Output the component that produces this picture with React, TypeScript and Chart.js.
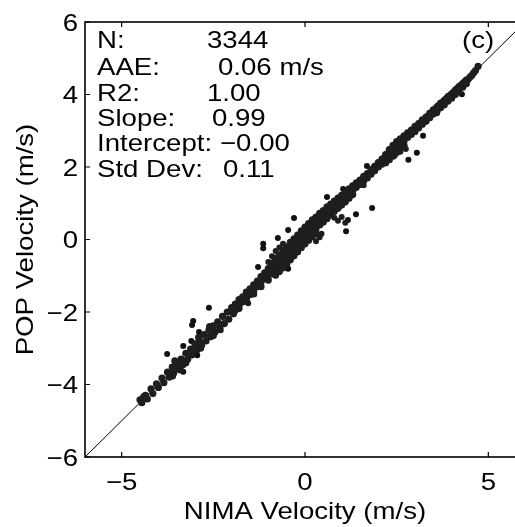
import React, { useEffect, useRef } from "react";
import { Chart, registerables } from "chart.js";

Chart.register(...registerables);

// ---- axis ticks ----
const xTickValues = [-5, 0, 5];
const yTickValues = [-6, -4, -2, 0, 2, 4, 6];
const axisMin = -6;
const axisMax = 6;

// ---- texts ----
const xTitle = "NIMA Velocity (m/s)";
const yTitle = "POP Velocity (m/s)";
const panelTag = "(c)";
const statNames = ["N:", "AAE:", "R2:", "Slope:", "Intercept:", "Std Dev:"];
const statValues = ["3344", "0.06 m/s", "1.00", "0.99", "\u22120.00", "0.11"];

// ---- 1:1 reference line ----
const identityLine: [number, number][] = [
  [-6, -6],
  [6, 6],
];

// ---- scatter (NIMA, POP) ----
const bandLow: [number, number][] = [
  [-4.5, -4.42], [-4.45, -4.5], [-4.4, -4.34], [-4.35, -4.3], [-4.3, -4.4],
  [-4.2, -4.12], [-4.15, -4.25], [-4.05, -3.98], [-4.0, -4.08], [-3.9, -3.82],
  [-3.85, -3.95], [-3.75, -3.66], [-3.7, -3.8], [-3.62, -3.52], [-3.58, -3.68],
  [-3.55, -3.35], [-3.5, -3.4], [-3.45, -3.55], [-3.4, -3.6], [-3.38, -3.3],
  [-3.32, -3.45], [-3.25, -3.14], [-3.25, -3.4], [-3.2, -3.3], [-3.12, -3.02],
  [-3.08, -3.18], [-3.0, -2.88], [-2.95, -3.05], [-2.9, -2.7], [-2.88, -2.78],
  [-2.85, -3.0], [-2.82, -2.92], [-2.75, -2.62], [-2.7, -2.8], [-2.62, -2.5],
  [-2.6, -2.4], [-2.58, -2.68], [-2.5, -2.38], [-2.5, -2.65], [-2.45, -2.55],
  [-2.38, -2.27], [-2.32, -2.44], [-2.25, -2.12], [-2.2, -2.32], [-2.12, -2.0],
  [-2.08, -2.2], [-2.0, -1.88], [-1.95, -2.05],
];

const bandMid: [number, number][] = [
  [-1.9, -1.78], [-1.9, -1.95], [-1.8, -1.66], [-1.8, -1.82], [-1.8, -1.9],
  [-1.7, -1.58], [-1.7, -1.72], [-1.6, -1.45], [-1.6, -1.62], [-1.6, -1.7],
  [-1.5, -1.36], [-1.5, -1.52], [-1.4, -1.25], [-1.4, -1.42], [-1.4, -1.5],
  [-1.3, -1.15], [-1.3, -1.3], [-1.2, -1.02], [-1.2, -1.18], [-1.2, -1.3],
  [-1.1, -0.92], [-1.1, -1.08], [-1.0, -0.8], [-1.0, -0.98], [-1.0, -1.12],
  [-0.9, -0.65], [-0.9, -0.8], [-0.9, -0.95],
  [-0.8, -0.52], [-0.8, -0.68], [-0.8, -0.85], [-0.8, -0.98],
  [-0.7, -0.42], [-0.7, -0.58], [-0.7, -0.74], [-0.7, -0.88],
  [-0.6, -0.3], [-0.6, -0.46], [-0.6, -0.62], [-0.6, -0.78],
  [-0.5, -0.2], [-0.5, -0.36], [-0.5, -0.52], [-0.5, -0.68],
  [-0.4, -0.08], [-0.4, -0.24], [-0.4, -0.4], [-0.4, -0.56],
  [-0.3, 0.02], [-0.3, -0.14], [-0.3, -0.3], [-0.3, -0.45],
  [-0.2, 0.12], [-0.2, -0.04], [-0.2, -0.2], [-0.2, -0.34],
  [-0.1, 0.24], [-0.1, 0.08], [-0.1, -0.08], [-0.1, -0.22],
  [0.0, 0.34], [0.0, 0.18], [0.0, 0.02], [0.0, -0.12],
  [0.1, 0.44], [0.1, 0.28], [0.1, 0.12], [0.1, -0.02],
  [0.2, 0.54], [0.2, 0.38], [0.2, 0.22], [0.2, 0.08],
  [0.3, 0.62], [0.3, 0.46], [0.3, 0.3], [0.3, 0.16],
  [0.4, 0.72], [0.4, 0.56], [0.4, 0.4],
  [0.5, 0.8], [0.5, 0.64], [0.5, 0.48],
  [0.6, 0.9], [0.6, 0.74], [0.6, 0.58],
];

const bandMidFill: [number, number][] = [
  [-1.85, -1.8], [-1.75, -1.7], [-1.65, -1.58], [-1.55, -1.5], [-1.45, -1.38],
  [-1.35, -1.28], [-1.25, -1.16], [-1.15, -1.05], [-1.05, -0.95], [-0.95, -0.84],
  [-0.85, -0.72], [-0.75, -0.62], [-0.65, -0.52], [-0.55, -0.42], [-0.45, -0.32],
  [-0.35, -0.2], [-0.25, -0.1], [-0.15, 0.0], [-0.05, 0.1], [0.05, 0.2],
  [0.15, 0.3], [0.25, 0.4], [0.35, 0.5], [0.45, 0.58], [0.55, 0.68], [0.65, 0.78],
  [-0.85, -0.9], [-0.75, -0.8], [-0.65, -0.7], [-0.55, -0.6], [-0.45, -0.48],
  [-0.35, -0.38], [-0.25, -0.27], [-0.15, -0.15], [-0.05, -0.04], [0.05, 0.06],
  [0.15, 0.15], [0.25, 0.22],
];

const bandEdge: [number, number][] = [
  [-1.0, -0.62], [-0.9, -0.46], [-0.8, -0.32], [-0.7, -0.22], [-0.6, -0.12],
  [0.3, -0.05], [0.4, 0.06], [0.45, 0.16], [0.9, 0.52], [1.0, 0.62],
  [1.1, 0.46], [0.8, 0.6], [2.45, 2.32], [2.6, 2.42], [2.75, 2.5],
  [-3.6, -3.78], [-2.3, -2.5], [-1.55, -1.76], [1.6, 1.5], [3.6, 3.48],
];

const bandHigh: [number, number][] = [
  [0.7, 0.98], [0.7, 0.84], [0.7, 0.68], [0.8, 1.06], [0.8, 0.92], [0.8, 0.78],
  [0.9, 1.14], [0.9, 1.0], [0.9, 0.86], [1.0, 1.22], [1.0, 1.08], [1.0, 0.95],
  [1.1, 1.3], [1.1, 1.16], [1.1, 1.04], [1.2, 1.4], [1.2, 1.26], [1.2, 1.14],
  [1.3, 1.48], [1.3, 1.34], [1.3, 1.24], [1.4, 1.56], [1.4, 1.44], [1.5, 1.64],
  [1.5, 1.52], [1.6, 1.74], [1.6, 1.62], [1.7, 1.82], [1.7, 1.7], [1.8, 1.92],
  [1.8, 1.8], [1.9, 2.02], [1.9, 1.9], [2.0, 2.12], [2.0, 2.0], [2.1, 2.22],
  [2.1, 2.08], [2.2, 2.34], [2.2, 2.2], [2.2, 2.12], [2.3, 2.48], [2.3, 2.32],
  [2.3, 2.2], [2.4, 2.6], [2.4, 2.44], [2.4, 2.3], [2.5, 2.7], [2.5, 2.54],
  [2.5, 2.4], [2.6, 2.78], [2.6, 2.62], [2.6, 2.5], [2.7, 2.86], [2.7, 2.72],
  [2.7, 2.6], [2.8, 2.94], [2.8, 2.82], [2.9, 3.02], [2.9, 2.9], [3.0, 3.12],
  [3.0, 2.98], [3.1, 3.2], [3.1, 3.08], [3.2, 3.3], [3.2, 3.18], [3.3, 3.38],
  [3.3, 3.26], [3.4, 3.48], [3.4, 3.36], [3.5, 3.58], [3.5, 3.46], [3.6, 3.66],
  [3.6, 3.54], [3.7, 3.76], [3.7, 3.64], [3.8, 3.84], [3.8, 3.72], [3.9, 3.94],
  [3.9, 3.82], [4.0, 4.02], [4.0, 3.9], [4.1, 4.12], [4.1, 4.0], [4.2, 4.22],
  [4.2, 4.1], [4.3, 4.3], [4.3, 4.2], [4.4, 4.4], [4.4, 4.3], [4.5, 4.48],
  [4.6, 4.6], [4.72, 4.78],
];

const bandHighFill: [number, number][] = [
  [0.75, 0.84], [0.85, 0.93], [0.95, 1.03], [1.05, 1.12], [1.15, 1.22],
  [1.25, 1.33], [1.35, 1.43], [1.45, 1.52], [1.55, 1.62], [1.65, 1.73],
  [1.75, 1.82], [1.85, 1.93], [1.95, 2.03], [2.05, 2.13], [2.15, 2.24],
  [2.25, 2.36], [2.35, 2.47], [2.45, 2.56], [2.55, 2.65], [2.65, 2.74],
  [2.75, 2.84], [2.85, 2.93], [2.95, 3.03], [3.05, 3.12], [3.15, 3.22],
  [3.25, 3.3], [3.35, 3.4], [3.45, 3.5], [3.55, 3.6], [3.65, 3.7],
  [3.75, 3.78], [3.85, 3.88], [3.95, 3.97], [4.05, 4.06], [4.15, 4.16],
  [4.25, 4.25], [4.35, 4.35], [4.45, 4.42], [4.55, 4.53], [4.65, 4.66],
];

const outliers: [number, number][] = [
  [-3.76, -3.16], [-3.32, -2.94], [-3.1, -2.8], [-3.05, -2.25], [-3.08, -2.36],
  [-2.89, -2.55], [-2.62, -1.88], [-3.32, -3.65], [-2.94, -3.19], [-1.28, -0.76],
  [-1.14, -0.12], [-1.14, -0.24], [-0.74, 0.04], [-0.46, 0.26], [-0.3, 0.59],
  [-0.46, -0.81], [0.6, 1.17], [1.04, 1.39], [1.69, 2.03], [1.12, 0.23],
  [1.17, 0.54], [1.39, 0.7], [1.83, 0.87], [2.82, 2.2], [3.05, 2.39],
  [3.22, 2.86], [4.28, 4.01],
];

const toPts = (arr: [number, number][]) => arr.map(([x, y]) => ({ x, y }));

const FONT = '24px "Liberation Sans", Arial, Helvetica, sans-serif';
const SX = 1.15;

function drawText(
  ctx: CanvasRenderingContext2D,
  text: string,
  x: number,
  y: number,
  align: CanvasTextAlign,
  rotate = 0
) {
  ctx.save();
  ctx.translate(x, y);
  if (rotate) ctx.rotate(rotate);
  ctx.scale(SX, 1);
  ctx.textAlign = align;
  ctx.textBaseline = "alphabetic";
  ctx.fillText(text, 0, 0);
  ctx.restore();
}

const fmt = (v: number) => (v < 0 ? "\u2212" + Math.abs(v) : String(v));

const framePlugin = {
  id: "frame",
  afterDraw(chart: any) {
    const { ctx, chartArea, scales } = chart;
    const { left, right, top, bottom } = chartArea;
    const xs = scales.x;
    const ys = scales.y;
    ctx.save();
    ctx.strokeStyle = "#000";
    ctx.lineWidth = 1.6;
    ctx.strokeRect(left, top, right - left, bottom - top);
    ctx.lineWidth = 1.2;
    ctx.beginPath();
    xTickValues.forEach((v) => {
      const px = xs.getPixelForValue(v);
      ctx.moveTo(px, bottom);
      ctx.lineTo(px, bottom - 5);
      ctx.moveTo(px, top);
      ctx.lineTo(px, top + 5);
    });
    yTickValues.forEach((v) => {
      const py = ys.getPixelForValue(v);
      ctx.moveTo(left, py);
      ctx.lineTo(left + 5, py);
      ctx.moveTo(right, py);
      ctx.lineTo(right - 5, py);
    });
    ctx.stroke();

    ctx.fillStyle = "#000";
    ctx.font = FONT;
    yTickValues.forEach((v) => {
      drawText(ctx, fmt(v), left - 7, ys.getPixelForValue(v) + 8.5, "right");
    });
    xTickValues.forEach((v) => {
      drawText(ctx, fmt(v), xs.getPixelForValue(v), 490, "center");
    });
    drawText(ctx, xTitle, (left + right) / 2, 519, "center");
    drawText(ctx, yTitle, 33, (top + bottom) / 2, "center", -Math.PI / 2);

    const baselines = [48, 75, 101, 126, 151, 177];
    const valueX = [207, 218, 207, 212, 220, 223];
    statNames.forEach((name, i) => {
      drawText(ctx, name, 97, baselines[i], "left");
      drawText(ctx, statValues[i], valueX[i], baselines[i], "left");
    });
    drawText(ctx, panelTag, 462, 48, "left");
    ctx.restore();
  },
};

export default function App() {
  const ref = useRef<HTMLCanvasElement | null>(null);
  useEffect(() => {
    if (!ref.current) return;
    const bandStyle = {
      pointRadius: 3.6,
      pointBackgroundColor: "#1e1e1e",
      pointBorderWidth: 0,
      showLine: false,
    };
    const edgeStyle = { ...bandStyle, pointRadius: 3.0 };
    const outlierStyle = { ...bandStyle, pointRadius: 3.0, pointBackgroundColor: "#111" };
    const chart = new Chart(ref.current, {
      type: "scatter",
      data: {
        datasets: [
          { data: toPts(bandLow), ...bandStyle },
          { data: toPts(bandMid), ...bandStyle },
          { data: toPts(bandMidFill), ...bandStyle },
          { data: toPts(bandEdge), ...edgeStyle },
          { data: toPts(bandHigh), ...bandStyle },
          { data: toPts(bandHighFill), ...bandStyle },
          { data: toPts(outliers), ...outlierStyle },
          {
            type: "line",
            data: toPts(identityLine),
            borderColor: "#000",
            borderWidth: 1,
            pointRadius: 0,
            showLine: true,
            fill: false,
          } as any,
        ],
      },
      options: {
        responsive: false,
        animation: false,
        events: [],
        layout: { padding: { left: 0, top: 22, right: 20, bottom: 0 } },
        plugins: { legend: { display: false }, tooltip: { enabled: false } },
        scales: {
          x: {
            type: "linear",
            min: axisMin,
            max: axisMax,
            grid: { display: false },
            border: { display: false },
            ticks: { display: false },
            afterBuildTicks: (s: any) => {
              s.ticks = xTickValues.map((v) => ({ value: v }));
            },
            afterFit: (s: any) => {
              s.height = 70;
            },
          },
          y: {
            type: "linear",
            min: axisMin,
            max: axisMax,
            grid: { display: false },
            border: { display: false },
            ticks: { display: false },
            afterBuildTicks: (s: any) => {
              s.ticks = yTickValues.map((v) => ({ value: v }));
            },
            afterFit: (s: any) => {
              s.width = 85;
            },
          },
        },
      } as any,
      plugins: [framePlugin],
    });
    return () => chart.destroy();
  }, []);

  return (
    <div
      style={{
        position: "fixed",
        left: 0,
        top: 0,
        width: 515,
        height: 527,
        overflow: "hidden",
        background: "#fff",
      }}
    >
      <canvas ref={ref} width={545} height={527} style={{ display: "block", width: 545, height: 527 }} />
    </div>
  );
}
